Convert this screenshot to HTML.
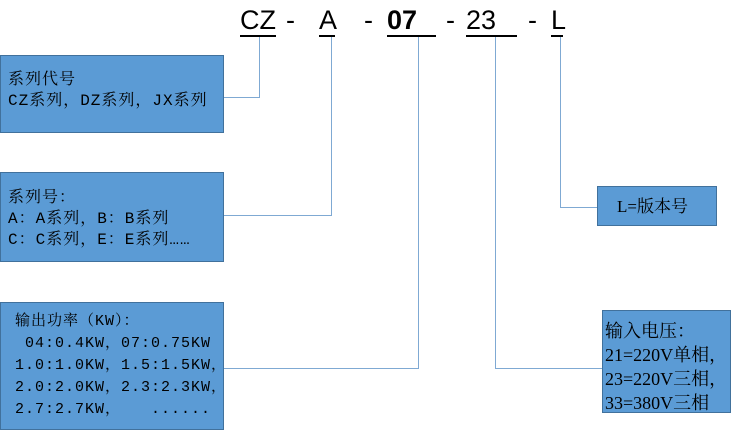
<!DOCTYPE html>
<html><head><meta charset="utf-8"><style>
body{margin:0;width:737px;height:435px;background:#fff;position:relative;overflow:hidden;font-family:"Liberation Mono","Noto Serif CJK SC",serif;}
.b{position:absolute;background:#5b9bd5;border:1px solid #41719c;box-sizing:border-box;color:#000;font-size:16px;line-height:21px;white-space:pre;letter-spacing:1px;}
.l{position:absolute;background:#7fa9d3;}
.t{position:absolute;top:4px;font-family:"Liberation Sans","DejaVu Sans",sans-serif;font-size:27px;line-height:32px;color:#000;}
.u{position:absolute;top:35px;height:2px;background:#000;}
</style></head><body>
<div class="t" style="left:240px">CZ</div><div class="u" style="left:240px;width:36px"></div>
<div class="t" style="left:286px">-</div>
<div class="t" style="left:319px">A</div><div class="u" style="left:319px;width:16px"></div>
<div class="t" style="left:364px">-</div>
<div class="t" style="left:387px;font-weight:bold">07</div><div class="u" style="left:387px;width:49px"></div>
<div class="t" style="left:446px">-</div>
<div class="t" style="left:466px">23</div><div class="u" style="left:466px;width:51px"></div>
<div class="t" style="left:528px">-</div>
<div class="t" style="left:551px">L</div><div class="u" style="left:551px;width:12px"></div>

<div class="l" style="left:259px;top:37px;width:1px;height:61px"></div>
<div class="l" style="left:224px;top:97px;width:36px;height:1px"></div>
<div class="l" style="left:331px;top:37px;width:1px;height:179px"></div>
<div class="l" style="left:224px;top:215px;width:108px;height:1px"></div>
<div class="l" style="left:418px;top:37px;width:1px;height:332px"></div>
<div class="l" style="left:224px;top:368px;width:195px;height:1px"></div>
<div class="l" style="left:495px;top:37px;width:1px;height:332px"></div>
<div class="l" style="left:495px;top:368px;width:108px;height:1px"></div>
<div class="l" style="left:560px;top:37px;width:1px;height:171px"></div>
<div class="l" style="left:560px;top:207px;width:38px;height:1px"></div>

<div class="b" style="left:0;top:55px;width:224px;height:78px;padding:14px 0 0 7px">系列代号
CZ系列，DZ系列，JX系列</div>
<div class="b" style="left:0;top:172px;width:224px;height:90px;padding:15px 0 0 7px">系列号：
A：A系列，B：B系列
C：C系列，E：E系列……</div>
<div class="b" style="left:0;top:302px;width:224px;height:128px;padding:8px 0 0 14px;line-height:22px;font-size:15px;left:0">输出功率（KW）：
 04:0.4KW，07:0.75KW
1.0:1.0KW，1.5:1.5KW，
2.0:2.0KW，2.3:2.3KW，
2.7:2.7KW，   ......</div>
<div class="b" style="left:597px;top:186px;width:120px;height:40px;padding:9px 0 0 19px;font-family:'Liberation Serif','Noto Serif CJK SC',serif;font-size:17px;letter-spacing:0">L=版本号</div>
<div class="b" style="left:602px;top:310px;width:129px;height:103px;padding:8px 0 0 2px;line-height:24px;font-size:18px;letter-spacing:0;font-family:'Liberation Serif','Noto Serif CJK SC',serif">输入电压：
21=220V单相，
23=220V三相，
33=380V三相</div>
</body></html>
